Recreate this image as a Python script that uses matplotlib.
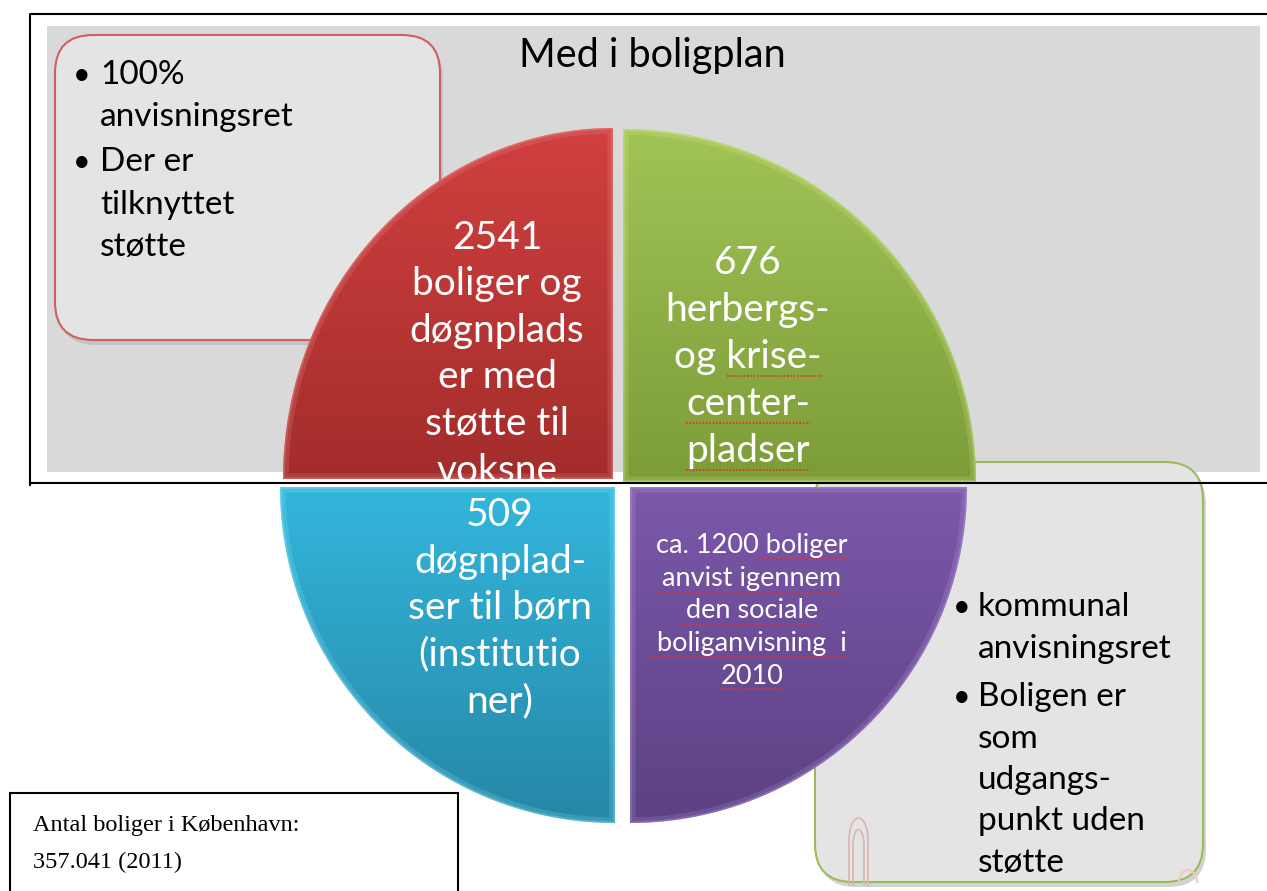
import numpy as np
import matplotlib.pyplot as plt
from matplotlib.patches import FancyBboxPatch, Rectangle, Polygon
from matplotlib.colors import LinearSegmentedColormap

# --- content ---
title = "Med i boligplan"
left_bullets = [["100%", "anvisningsret"], ["Der er", "tilknyttet", "støtte"]]
right_bullets = [["kommunal", "anvisningsret"],
                 ["Boligen er", "som", "udgangs-", "punkt uden", "støtte"]]
quad_text = [
    ["2541", "boliger og", "døgnplads", "er med", "støtte til", "voksne"],
    ["676", "herbergs-", "og krise-", "center-", "pladser"],
    ["509", "døgnplad-", "ser til børn", "(institutio", "ner)"],
    ["ca. 1200 boliger", "anvist igennem", "den sociale", "boliganvisning  i", "2010"],
]
# spell-check underlines: (quadrant, line, underlined suffix)
underlined = [(1, 2, "krise-"), (1, 3, "center-"), (1, 4, "pladser"),
              (3, 0, "boliger "), (3, 1, "anvist igennem "), (3, 2, "den sociale "),
              (3, 3, "boliganvisning  i "), (3, 4, "2010")]
quad_top = ["#d0403f", "#a2c456", "#33b6dc", "#7c58aa"]
quad_bot = ["#a32d2b", "#7c9c38", "#2687a6", "#5b4183"]
quad_rim = ["#f4a0a0", "#e0f59a", "#9ef0ff", "#c8a8ec"]
note_lines = ["Antal boliger i København:", "357.041 (2011)"]

W, H = 1267, 891
fig = plt.figure(figsize=(W / 100, H / 100), dpi=100)
ax = fig.add_axes([0, 0, 1, 1])
ax.set_xlim(0, W)
ax.set_ylim(H, 0)
ax.axis("off")

sans = "Lato"

# outer frame + gray panel
ax.add_patch(Rectangle((47, 26), 1213, 446, facecolor="#d9d9d9", edgecolor="none", zorder=1))
ax.plot([30, 30, W], [485, 14, 14], color="black", lw=1.5, zorder=1)
ax.plot([30, W], [483, 483], color="black", lw=1.5, zorder=4)
ax.text(652, 55, title, fontsize=28.5, family=sans, ha="center", va="center", zorder=2)

# rounded side boxes (with light shadow)
def side_box(x0, y0, w, h, edge):
    ax.add_patch(FancyBboxPatch((x0 + 3, y0 + 5), w, h, boxstyle="round,pad=0,rounding_size=38",
                                facecolor="#b5b5b5", edgecolor="none", alpha=0.6, zorder=2))
    ax.add_patch(FancyBboxPatch((x0, y0), w, h, boxstyle="round,pad=0,rounding_size=38",
                                facecolor="#e4e4e4", edgecolor=edge, lw=1.5, zorder=3))

side_box(55, 35, 385, 305, "#d0605d")
side_box(815, 462, 388, 420, "#9bbb59")

# little pinkish loop at the bottom of the right box
t = np.linspace(np.pi, 0, 40)
for w, top in ((9.5, 818), (5.5, 824)):
    yc = top + 22
    xs = np.concatenate([[858.5 - w], 858.5 + w * np.cos(t), [858.5 + w]])
    ys = np.concatenate([[885], yc - 22 * np.sin(t) * (1 if w > 6 else 0.75), [885]])
    ax.plot(xs, ys, color="#d9b5b5", lw=1.2, zorder=3.2)
ax.plot(1188 + 9 * np.cos(np.linspace(0, np.pi, 30)), 882 - 12 * np.sin(np.linspace(0, np.pi, 30)),
        color="#f0c8c8", lw=1.5, zorder=3.2)

def bullets(groups, xb, xt, y0, dy, gap):
    y = y0
    for g in groups:
        ax.text(xb, y, "•", fontsize=22, family=sans, ha="center", va="center", zorder=3.5)
        for line in g:
            ax.text(xt, y, line, fontsize=24, family=sans, ha="left", va="center", zorder=3.5)
            y += dy
        y += gap

bullets(left_bullets, 82, 100, 75, 42.5, 2)
bullets(right_bullets, 962, 978, 607, 41.5, 7)

# quadrants (slightly elliptical, offset from each other)
corners = [(613, 479), (623, 482), (615, 487), (630, 487)]
rx = [330, 353, 335, 337]
ry = [351, 353, 336, 336]
sx = [-1, 1, -1, 1]
sy = [-1, -1, 1, 1]
for k in range(4):
    cx, cy = corners[k]
    a = np.linspace(0, np.pi / 2, 120)
    px = cx + sx[k] * rx[k] * np.cos(a)
    py = cy + sy[k] * ry[k] * np.sin(a)
    pts = np.column_stack([np.concatenate([[cx], px]), np.concatenate([[cy], py])])
    poly = Polygon(pts, closed=True, facecolor="none", edgecolor="none", zorder=5)
    ax.add_patch(poly)
    cmap = LinearSegmentedColormap.from_list("g%d" % k, [quad_top[k], quad_bot[k]])
    grad = np.linspace(0, 1, 256).reshape(-1, 1)
    x0, x1 = sorted([cx, cx + sx[k] * rx[k]])
    y0, y1 = sorted([cy, cy + sy[k] * ry[k]])
    im = ax.imshow(grad, cmap=cmap, extent=(x0, x1, y1, y0), aspect="auto", zorder=5,
                   interpolation="bilinear")
    im.set_clip_path(poly)
    # bevel: soft light rim inside the outline
    rim = Polygon(pts, closed=True, facecolor="none", edgecolor=quad_rim[k], lw=8,
                  alpha=0.18, zorder=6)
    ax.add_patch(rim)
    rim.set_clip_path(poly)
    rim2 = Polygon(pts, closed=True, facecolor="none", edgecolor=quad_rim[k], lw=2.5,
                   alpha=0.3, zorder=6)
    ax.add_patch(rim2)
    rim2.set_clip_path(poly)
ax.set_xlim(0, W)
ax.set_ylim(H, 0)

qtexts = {}
def lines(k, x, y0, dy, size):
    for i, s in enumerate(quad_text[k]):
        qtexts[(k, i)] = ax.text(x, y0 + i * dy, s, fontsize=size, family=sans, color="white",
                                 ha="center", va="center", zorder=7)

lines(0, 497, 238, 46.5, 28)
lines(1, 748, 263, 47, 28)
lines(2, 500, 515, 46.5, 28)
lines(3, 752, 546, 32.5, 19.5)

# red dotted spell-check underlines
fig.canvas.draw()
r = fig.canvas.get_renderer()
inv = ax.transData.inverted()
for k, i, suf in underlined:
    tx = qtexts[(k, i)]
    bb = tx.get_window_extent(r)
    tmp = ax.text(0, 0, suf, fontsize=tx.get_fontsize(), family=sans)
    wsuf = tmp.get_window_extent(r).width
    tmp.remove()
    (xa, yb), (xb, _) = inv.transform([[bb.x1 - wsuf, bb.y0], [bb.x1, bb.y0]])
    ax.plot([xa, xb], [yb + 1, yb + 1], color="#e03030", lw=1.2, ls=(0, (1, 1)), zorder=7.5)

# note box
ax.add_patch(Rectangle((10, 793), 448, 110, facecolor="white", edgecolor="black", lw=1.5, zorder=8))
for i, s in enumerate(note_lines):
    ax.text(33, 825 + i * 37, s, fontsize=17.5, family="Liberation Serif", ha="left", va="center", zorder=9)

fig.savefig("out.png", dpi=100)
